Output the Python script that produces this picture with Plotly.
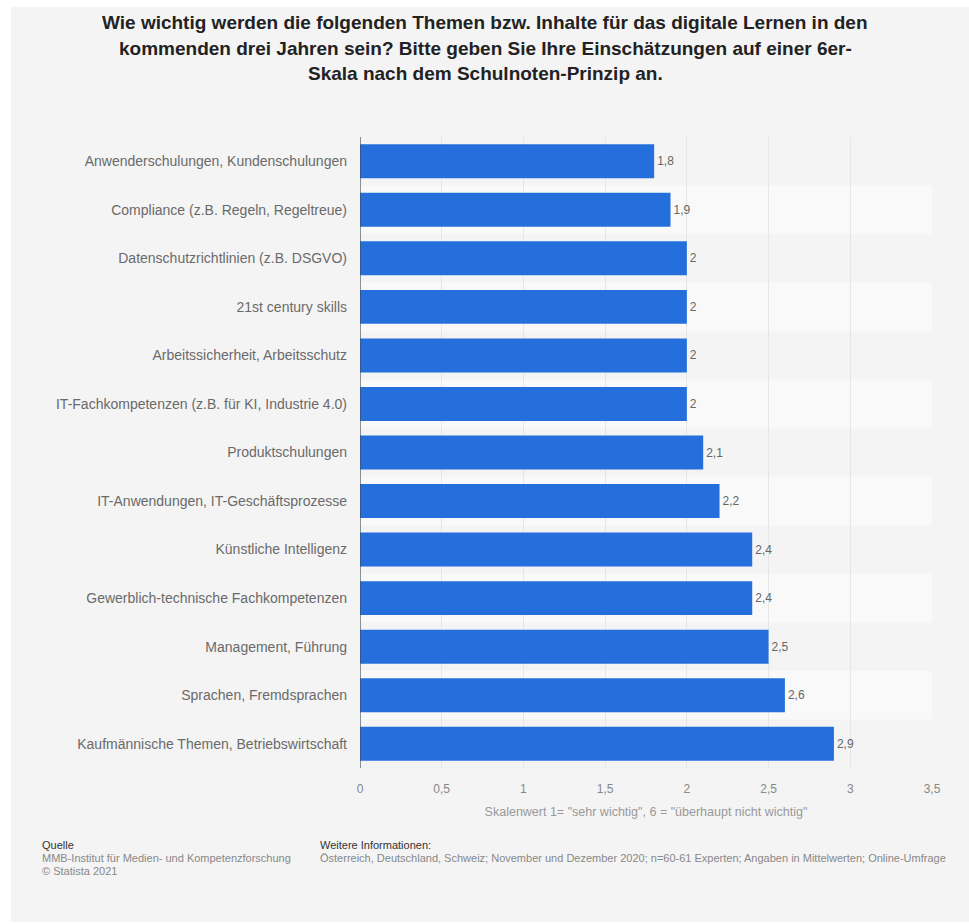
import plotly.graph_objects as go

categories = [
    "Anwenderschulungen, Kundenschulungen",
    "Compliance (z.B. Regeln, Regeltreue)",
    "Datenschutzrichtlinien (z.B. DSGVO)",
    "21st century skills",
    "Arbeitssicherheit, Arbeitsschutz",
    "IT-Fachkompetenzen (z.B. für KI, Industrie 4.0)",
    "Produktschulungen",
    "IT-Anwendungen, IT-Geschäftsprozesse",
    "Künstliche Intelligenz",
    "Gewerblich-technische Fachkompetenzen",
    "Management, Führung",
    "Sprachen, Fremdsprachen",
    "Kaufmännische Themen, Betriebswirtschaft",
]
values = [1.8, 1.9, 2, 2, 2, 2, 2.1, 2.2, 2.4, 2.4, 2.5, 2.6, 2.9]
x_ticks = [0, 0.5, 1, 1.5, 2, 2.5, 3, 3.5]
x_ticklabels = ["0", "0,5", "1", "1,5", "2", "2,5", "3", "3,5"]

title_lines = [
    "Wie wichtig werden die folgenden Themen bzw. Inhalte für das digitale Lernen in den",
    "kommenden drei Jahren sein? Bitte geben Sie Ihre Einschätzungen auf einer 6er-",
    "Skala nach dem Schulnoten-Prinzip an.",
]
x_title = 'Skalenwert 1= "sehr wichtig", 6 = "überhaupt nicht wichtig"'
source_lines = ["MMB-Institut für Medien- und Kompetenzforschung", "© Statista 2021"]
info_text = ("Österreich, Deutschland, Schweiz; November und Dezember 2020; n=60-61 Experten; "
             "Angaben in Mittelwerten; Online-Umfrage")

W, H = 969, 924
L, R, T, B = 360, 37, 137, 156
PW, PH = W - L - R, H - T - B

def px_x(px):
    return (px - L) / PW

def px_y(py):
    return (H - B - py) / PH

labels = [("%g" % v).replace(".", ",") for v in values]
FONT = "Liberation Sans, Arial, sans-serif"

fig = go.Figure()
fig.add_trace(go.Bar(
    x=values, y=categories, orientation="h",
    marker=dict(color="#256fdc", line=dict(width=0)),
    width=0.7,
    text=labels, textposition="outside",
    textfont=dict(size=12, color="#666666", family=FONT),
    cliponaxis=False,
))

shapes = []
# page frame
shapes.append(dict(type="rect", xref="paper", yref="paper", x0=px_x(0), x1=px_x(11), y0=px_y(H), y1=px_y(0),
                   fillcolor="white", line=dict(width=0), layer="below"))
shapes.append(dict(type="rect", xref="paper", yref="paper", x0=px_x(0), x1=px_x(W), y0=px_y(7), y1=px_y(0),
                   fillcolor="white", line=dict(width=0), layer="below"))
shapes.append(dict(type="rect", xref="paper", yref="paper", x0=px_x(0), x1=px_x(W), y0=px_y(H), y1=px_y(922),
                   fillcolor="white", line=dict(width=0), layer="below"))
# banding
for i in range(len(categories)):
    if i % 2 == 1:
        shapes.append(dict(type="rect", xref="paper", yref="y", x0=0, x1=1, y0=i - 0.5, y1=i + 0.5,
                           fillcolor="#f9f9f9", line=dict(width=0), layer="below"))
# axis line at zero
shapes.append(dict(type="line", xref="x", yref="paper", x0=0, x1=0, y0=0, y1=1,
                   line=dict(color="#3a4a5a", width=1.2), layer="above"))

annotations = []
for k, line in enumerate(title_lines):
    annotations.append(dict(text="<b>" + line + "</b>", x=px_x(485), y=px_y(22 + 26 * k),
                            xref="paper", yref="paper", xanchor="center", yanchor="middle",
                            showarrow=False, font=dict(size=19, color="#222222", family=FONT)))

FS = 11
annotations.append(dict(text="Quelle", x=px_x(40), y=px_y(845), xref="paper", yref="paper",
                        xanchor="left", yanchor="middle", showarrow=False,
                        font=dict(size=FS, color="#333333", family=FONT)))
for k, line in enumerate(source_lines):
    annotations.append(dict(text=line, x=px_x(40), y=px_y(858 + 13 * k), xref="paper", yref="paper",
                            xanchor="left", yanchor="middle", showarrow=False,
                            font=dict(size=FS, color="#888888", family=FONT)))
annotations.append(dict(text="Weitere Informationen:", x=px_x(318), y=px_y(845), xref="paper", yref="paper",
                        xanchor="left", yanchor="middle", showarrow=False,
                        font=dict(size=FS, color="#333333", family=FONT)))
annotations.append(dict(text=info_text, x=px_x(318), y=px_y(858), xref="paper", yref="paper",
                        xanchor="left", yanchor="middle", showarrow=False,
                        font=dict(size=FS, color="#888888", family=FONT)))

fig.update_layout(
    width=W, height=H,
    margin=dict(l=L, r=R, t=T, b=B, pad=0),
    paper_bgcolor="#f4f4f4", plot_bgcolor="rgba(0,0,0,0)",
    separators=",.",
    showlegend=False,
    shapes=shapes,
    annotations=annotations,
    bargap=0.3,
)

fig.update_xaxes(
    range=[0, 3.5], tickvals=x_ticks, ticktext=x_ticklabels,
    showgrid=True, gridcolor="#e6e6e6", gridwidth=1, zeroline=False, showline=False,
    tickfont=dict(size=12, color="#888888", family=FONT), ticklabelstandoff=12,
    title=dict(text=x_title, font=dict(size=12.5, color="#999999", family=FONT), standoff=12),
    fixedrange=True,
)
fig.update_yaxes(
    categoryorder="array", categoryarray=categories, autorange="reversed",
    showgrid=False, zeroline=False, showline=False,
    tickfont=dict(size=14, color="#6a6a6a", family=FONT), ticklabelstandoff=12,
    fixedrange=True,
)

fig.write_html("out.html")
